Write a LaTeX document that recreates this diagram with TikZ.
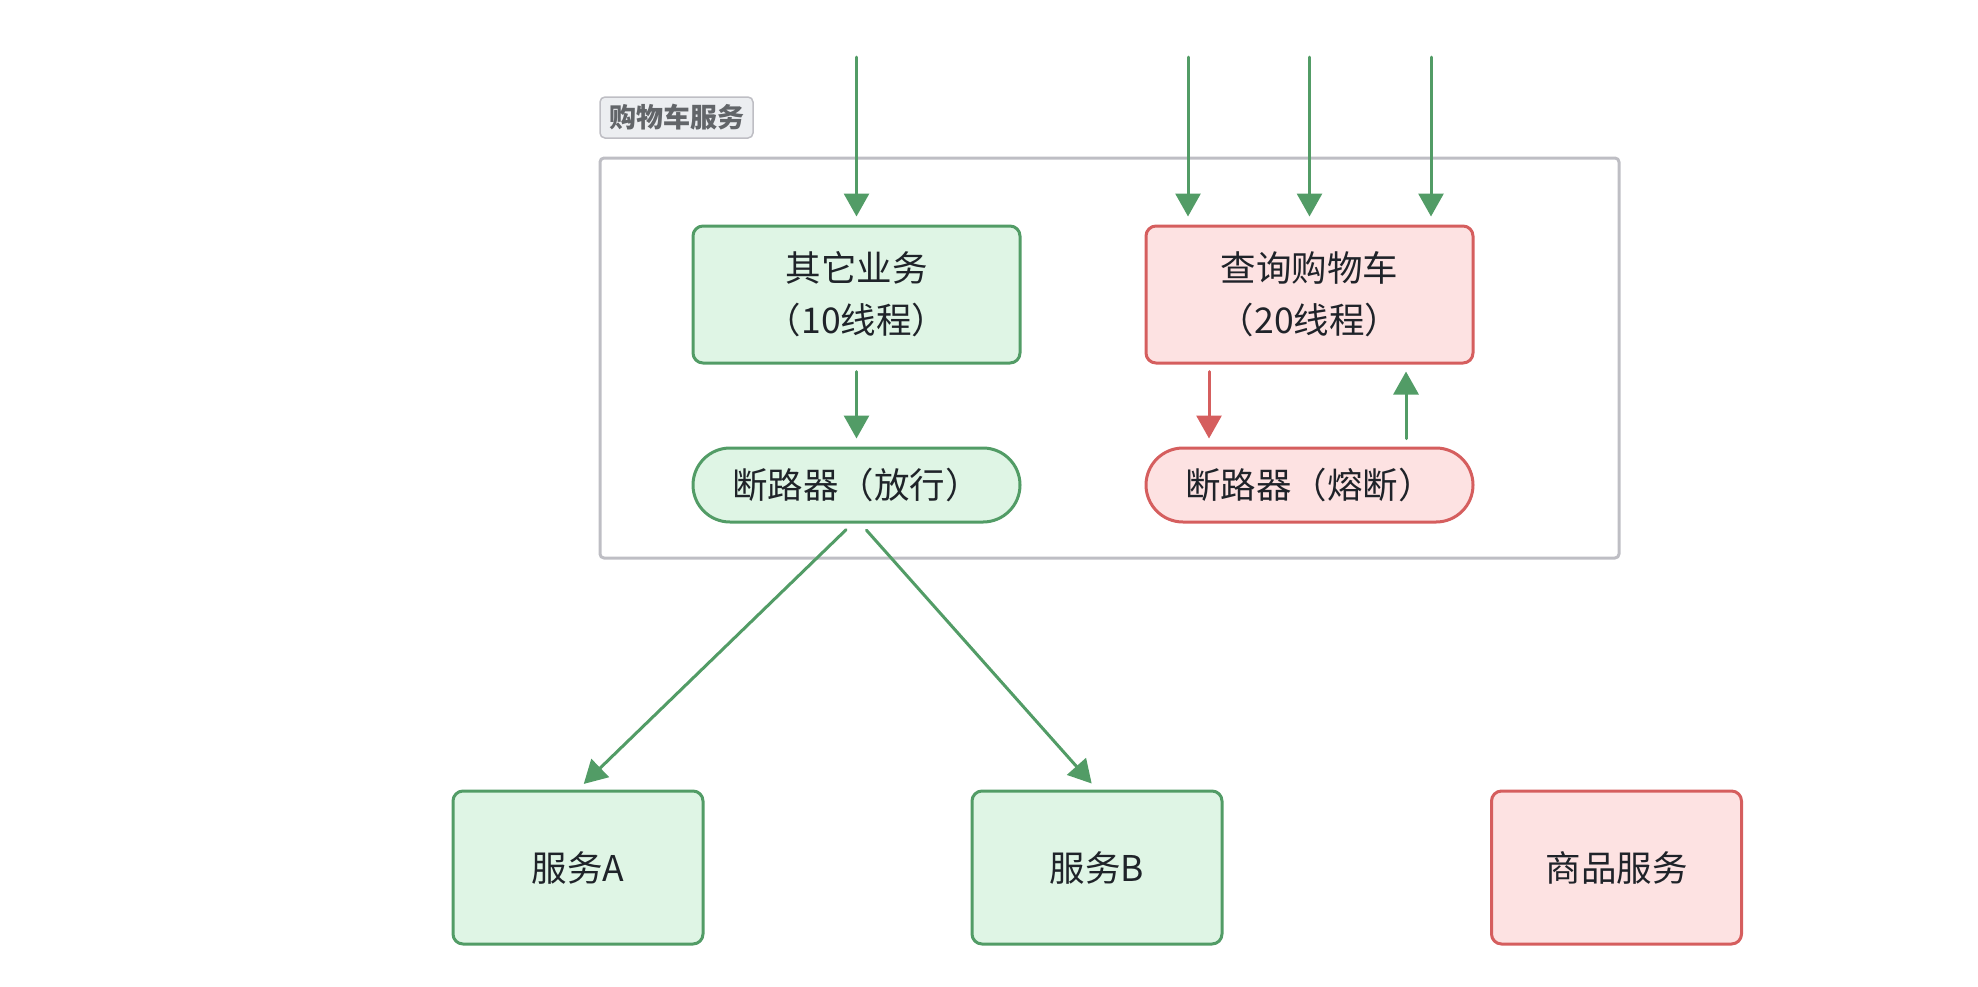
\documentclass[tikz,border=0pt]{standalone}
\usepackage{fontspec}
\setmainfont{Noto Sans CJK SC}
\usetikzlibrary{arrows.meta}
\definecolor{okline}{HTML}{529C66}
\definecolor{okfill}{HTML}{DFF5E5}
\definecolor{badline}{HTML}{D55E5E}
\definecolor{badfill}{HTML}{FDE2E2}
\definecolor{grpline}{HTML}{BEBEC4}
\definecolor{grpfill}{HTML}{ECEEF1}
\definecolor{ink}{HTML}{1F2329}
\begin{document}
\begin{tikzpicture}[x=1pt, y=-1pt, line cap=round, line join=round, >={Triangle[length=23pt,width=25pt]}]
	\tikzset{box/.style={draw, line width=3pt, rounded corners=10pt, inner sep=0pt, text=ink, align=center, font=\fontsize{35.5}{52}\selectfont},
		okbox/.style={box, draw=okline, fill=okfill},
		badbox/.style={box, draw=badline, fill=badfill},
		pill/.style={rounded corners=37pt, minimum width=327pt, minimum height=74pt},
		flow/.style={->, line width=3pt, draw=okline, fill=okline},
		trip/.style={->, line width=3pt, draw=badline, fill=badline}}
	\useasboundingbox (0,0) rectangle (1978,986);
	% group
	\node[draw=grpline, line width=3pt, rounded corners=4pt, minimum width=1019pt, minimum height=400pt] (cart) at (1109.5,358) {};
	\node[draw=grpline, fill=grpfill, line width=1.5pt, rounded corners=5pt, minimum width=153pt, minimum height=41pt, inner sep=0pt, text=ink!70, font=\fontsize{27}{30}\selectfont\bfseries] (cartlbl) at (676.5,117.5) {购物车服务};
	% threads
	\node[okbox, minimum width=327pt, minimum height=137pt] (other) at (856.5,294.5) {其它业务\\（10线程）};
	\node[badbox, minimum width=327pt, minimum height=137pt] (query) at (1309.5,294.5) {查询购物车\\（20线程）};
	\node[okbox, pill] (brkok) at (856.5,485) {断路器（放行）};
	\node[badbox, pill] (brkopen) at (1309.5,485) {断路器（熔断）};
	% services
	\node[okbox, minimum width=250pt, minimum height=153pt] (svcA) at (578,867.5) {服务A};
	\node[okbox, minimum width=250pt, minimum height=153pt] (svcB) at (1097,867.5) {服务B};
	\node[badbox, minimum width=250pt, minimum height=153pt] (goods) at (1616.5,867.5) {商品服务};
	% requests
	\coordinate (in0) at (856.5,57);
	\coordinate (in1) at (1188,57);
	\coordinate (in2) at (1309.5,57);
	\coordinate (in3) at (1431,57);
	\draw[flow, shorten >=8pt] (in0) -- (other.north);
	\foreach \c in {in1,in2,in3}
		\draw[flow, shorten >=8pt] (\c) -- (\c |- query.north);
	\draw[flow, shorten <=7pt, shorten >=8pt] (other.south) -- (brkok.north);
	\draw[trip, shorten <=7pt, shorten >=8pt] ([xshift=-100.5pt]query.south) -- ([xshift=-100.5pt]brkopen.north);
	\draw[flow, shorten <=8pt, shorten >=7pt] ([xshift=96.5pt]brkopen.north) -- ([xshift=96.5pt]query.south);
	\draw[flow, shorten <=9pt, shorten >=8pt] ([xshift=-4pt]brkok.south) -- (svcA.north);
	\draw[flow, shorten <=9pt, shorten >=8pt] ([xshift=4pt]brkok.south) -- (svcB.north);
\end{tikzpicture}
\end{document}
